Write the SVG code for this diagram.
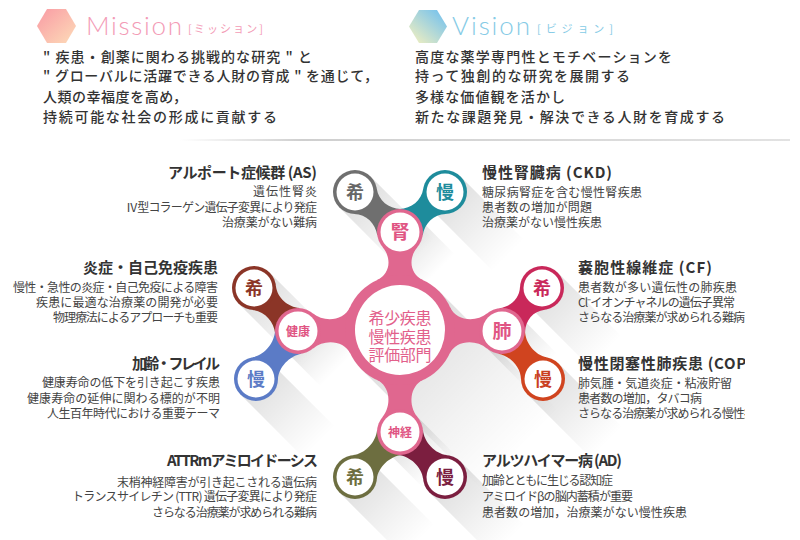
<svg xmlns="http://www.w3.org/2000/svg" width="800" height="540" viewBox="0 0 800 540">
<style>
.hd{font-family:"Noto Sans CJK JP","Noto Sans",sans-serif;font-size:14px;font-weight:500;fill:#333}
.ttl{font-family:"Noto Sans CJK JP","Liberation Sans",sans-serif;font-size:15px;font-weight:700;fill:#333}
.bd{font-family:"Noto Sans CJK JP","Liberation Sans",sans-serif;font-size:12px;fill:#444}
.end{text-anchor:end}
.ck{font-family:"Noto Sans CJK JP",sans-serif;font-size:18px;font-weight:700;text-anchor:middle}
.sk{font-family:"Noto Sans CJK JP",sans-serif;font-weight:700;text-anchor:middle;fill:#e05583}
.pk{fill:#e0678f}
.wh{fill:#fff}
.sh{fill:url(#shg)}
</style>
<defs>
<linearGradient id="shg" x1="0" y1="0" x2="1" y2="0">
<stop offset="0" stop-color="#000" stop-opacity="0.13"/>
<stop offset="0.6" stop-color="#000" stop-opacity="0.05"/>
<stop offset="1" stop-color="#000" stop-opacity="0"/>
</linearGradient>
<linearGradient id="hexM" x1="0" y1="0" x2="1" y2="1">
<stop offset="0" stop-color="#f99aa4"/>
<stop offset="1" stop-color="#fddcb8"/>
</linearGradient>
<linearGradient id="hexV" x1="1" y1="0" x2="0" y2="1">
<stop offset="0.1" stop-color="#79c3ec"/>
<stop offset="1" stop-color="#f8f2bd"/>
</linearGradient>
<linearGradient id="sep" x1="180" y1="0" x2="790" y2="0" gradientUnits="userSpaceOnUse">
<stop offset="0" stop-color="#ffffff"/>
<stop offset="0.2" stop-color="#cfcfcf"/>
<stop offset="1" stop-color="#e2e2e2"/>
</linearGradient>
<clipPath id="clipR"><rect x="0" y="0" width="745" height="540"/></clipPath>
</defs>

<g id="header">
<polygon points="37,26 47,9 66,9 76,26 66,43 47,43" fill="url(#hexM)"/>
<text x="86" y="35" font-family="Lato,'Liberation Sans',sans-serif" font-size="26" font-weight="300" fill="#f39bb6" textLength="96">Mission</text>
<text x="188" y="33" font-family="'Noto Sans CJK JP',sans-serif" font-size="11" fill="#f39bb6" textLength="75">[ミッション]</text>
<text class="hd"><tspan x="43" y="62" textLength="269">" 疾患・創薬に関わる挑戦的な研究 " と</tspan><tspan x="43" y="81" textLength="335">" グローバルに活躍できる人財の育成 " を通じて，</tspan><tspan x="43" y="102" textLength="144">人類の幸福度を高め，</tspan><tspan x="43" y="122" textLength="234">持続可能な社会の形成に貢献する</tspan></text>

<polygon points="409,26.5 419,10 437,10 447,26.5 437,43 419,43" fill="url(#hexV)"/>
<text x="452" y="35" font-family="Lato,'Liberation Sans',sans-serif" font-size="26" font-weight="300" fill="#86cbe6" textLength="78">Vision</text>
<text x="537" y="33" font-family="'Noto Sans CJK JP',sans-serif" font-size="11" fill="#86cbe6" textLength="76">[ビジョン]</text>
<text class="hd"><tspan x="415" y="62" textLength="257">高度な薬学専門性とモチベーションを</tspan><tspan x="415" y="81" textLength="215">持って独創的な研究を展開する</tspan><tspan x="415" y="102" textLength="150">多様な価値観を活かし</tspan><tspan x="415" y="122" textLength="310">新たな課題発見・解決できる人財を育成する</tspan></text>
<line x1="180" y1="140" x2="790" y2="140" stroke="url(#sep)" stroke-width="2"/>
</g>

<g id="shadows">
<rect class="sh" x="0" y="-55" width="170" height="110" transform="translate(400,330) rotate(45)"/>
<rect class="sh" x="0" y="-23" width="55" height="46" transform="translate(400,232) rotate(45)"/>
<rect class="sh" x="0" y="-23" width="55" height="46" transform="translate(298,331) rotate(45)"/>
<rect class="sh" x="0" y="-23" width="55" height="46" transform="translate(502,331) rotate(45)"/>
<rect class="sh" x="0" y="-23" width="55" height="46" transform="translate(400,432) rotate(45)"/>
<rect class="sh" x="0" y="-22" width="90" height="44" transform="translate(355,192) rotate(45)"/>
<rect class="sh" x="0" y="-22" width="90" height="44" transform="translate(445,192) rotate(45)"/>
<rect class="sh" x="0" y="-22" width="90" height="44" transform="translate(254,288) rotate(45)"/>
<rect class="sh" x="0" y="-22" width="90" height="44" transform="translate(256,379) rotate(45)"/>
<rect class="sh" x="0" y="-22" width="90" height="44" transform="translate(542,288) rotate(45)"/>
<rect class="sh" x="0" y="-22" width="90" height="44" transform="translate(543,379) rotate(45)"/>
<rect class="sh" x="0" y="-22" width="90" height="44" transform="translate(355,477) rotate(45)"/>
<rect class="sh" x="0" y="-22" width="90" height="44" transform="translate(445,477) rotate(45)"/>
</g>

<g id="connectors">
<path fill="#6f6f6f" transform="translate(355,192) rotate(41.6)" d="M14.1,-16.9 C23.3,-9.2 36.2,-9.9 45.4,-17.6 L45.4,17.6 C36.2,9.9 23.3,9.2 14.1,16.9Z"/>
<path fill="#1e8c9c" transform="translate(445,192) rotate(138.4)" d="M14.1,-16.9 C23.3,-9.2 36.2,-9.9 45.4,-17.6 L45.4,17.6 C36.2,9.9 23.3,9.2 14.1,16.9Z"/>
<path fill="#8b3527" transform="translate(254,288) rotate(44.3)" d="M14.1,-16.9 C23.3,-9.2 37.5,-9.9 46.7,-17.6 L46.7,17.6 C37.5,9.9 23.3,9.2 14.1,16.9Z"/>
<path fill="#5b7bc6" transform="translate(256,379) rotate(-48.8)" d="M14.1,-16.9 C23.3,-9.2 39.8,-9.9 49,-17.6 L49,17.6 C39.8,9.9 23.3,9.2 14.1,16.9Z"/>
<path fill="#c9285a" transform="translate(542,288) rotate(132.9)" d="M14.1,-16.9 C23.3,-9.2 34.7,-9.9 43.9,-17.6 L43.9,17.6 C34.7,9.9 23.3,9.2 14.1,16.9Z"/>
<path fill="#d0441f" transform="translate(543,379) rotate(-130.5)" d="M14.1,-16.9 C23.3,-9.2 39.1,-9.9 48.3,-17.6 L48.3,17.6 C39.1,9.9 23.3,9.2 14.1,16.9Z"/>
<path fill="#6d6e40" transform="translate(355,477) rotate(-45)" d="M14.1,-16.9 C23.3,-9.2 39.6,-9.9 48.8,-17.6 L48.8,17.6 C39.6,9.9 23.3,9.2 14.1,16.9Z"/>
<path fill="#7b1e3f" transform="translate(445,477) rotate(-135)" d="M14.1,-16.9 C23.3,-9.2 39.6,-9.9 48.8,-17.6 L48.8,17.6 C39.6,9.9 23.3,9.2 14.1,16.9Z"/>
<path class="pk" transform="translate(400,232) rotate(90)" d="M14.8,-17.6 C26.3,-8 41.9,-9.6 48.2,-23.2 L48.2,23.2 C41.9,9.6 26.3,8 14.8,17.6Z"/>
<path class="pk" transform="translate(298,331) rotate(-0.6)" d="M14.8,-17.6 C26.3,-8 45.9,-9.6 52.2,-23.2 L52.2,23.2 C45.9,9.6 26.3,8 14.8,17.6Z"/>
<path class="pk" transform="translate(502,331) rotate(180.6)" d="M14.8,-17.6 C26.3,-8 45.9,-9.6 52.2,-23.2 L52.2,23.2 C45.9,9.6 26.3,8 14.8,17.6Z"/>
<path class="pk" transform="translate(400,432) rotate(-90)" d="M14.8,-17.6 C26.3,-8 45.9,-9.6 52.2,-23.2 L52.2,23.2 C45.9,9.6 26.3,8 14.8,17.6Z"/>
</g>

<g id="node-as">
<circle cx="355" cy="192" r="22" fill="#6f6f6f"/><circle cx="355" cy="192" r="18.5" class="wh"/>
<text class="ck" x="355" y="198.5" fill="#666">希</text>
<text class="ttl end" x="317" y="177.5" textLength="149">アルポート症候群 (AS)</text>
<text class="bd end"><tspan x="317" y="196" textLength="64">遺伝性腎炎</tspan><tspan x="317" y="211.5" textLength="191">Ⅳ型コラーゲン遺伝子変異により発症</tspan><tspan x="317" y="226.5" textLength="95">治療薬がない難病</tspan></text>
</g>

<g id="node-ckd">
<circle cx="445" cy="192" r="22" fill="#1e8c9c"/><circle cx="445" cy="192" r="18.5" class="wh"/>
<text class="ck" x="445" y="198.5" fill="#1e8c9c">慢</text>
<text class="ttl" x="482" y="177.5" textLength="130">慢性腎臓病 (CKD)</text>
<text class="bd"><tspan x="482" y="196.5" textLength="160">糖尿病腎症を含む慢性腎疾患</tspan><tspan x="482" y="211.5" textLength="110">患者数の増加が問題</tspan><tspan x="482" y="226.5" textLength="120">治療薬がない慢性疾患</tspan></text>
</g>

<g id="node-inflam">
<circle cx="254" cy="288" r="22" fill="#8b3527"/><circle cx="254" cy="288" r="18.5" class="wh"/>
<text class="ck" x="254" y="294.5" fill="#8b3527">希</text>
<text class="ttl end" x="218" y="272.5" textLength="135">炎症・自己免疫疾患</text>
<text class="bd end"><tspan x="218" y="291.5" textLength="205">慢性・急性の炎症・自己免疫による障害</tspan><tspan x="218" y="306.5" textLength="182">疾患に最適な治療薬の開発が必要</tspan><tspan x="218" y="321.5" textLength="165">物理療法によるアプローチも重要</tspan></text>
</g>

<g id="node-frail">
<circle cx="256" cy="379" r="22" fill="#5b7bc6"/><circle cx="256" cy="379" r="18.5" class="wh"/>
<text class="ck" x="256" y="385.5" fill="#5b7bc6">慢</text>
<text class="ttl end" x="220" y="368.5" textLength="88">加齢・フレイル</text>
<text class="bd end"><tspan x="220" y="386.5" textLength="178">健康寿命の低下を引き起こす疾患</tspan><tspan x="220" y="402.5" textLength="193">健康寿命の延伸に関わる標的が不明</tspan><tspan x="220" y="417.5" textLength="173">人生百年時代における重要テーマ</tspan></text>
</g>

<g id="node-cf">
<circle cx="542" cy="288" r="22" fill="#c9285a"/><circle cx="542" cy="288" r="18.5" class="wh"/>
<text class="ck" x="542" y="294.5" fill="#c9285a">希</text>
<g clip-path="url(#clipR)">
<text class="ttl" x="578" y="272.5" textLength="134">嚢胞性線維症 (CF)</text>
<text class="bd"><tspan x="578" y="291.5" textLength="159">患者数が多い遺伝性の肺疾患</tspan><tspan x="578" y="306.5" textLength="157">Cl⁻イオンチャネルの遺伝子異常</tspan><tspan x="578" y="321.5" textLength="167">さらなる治療薬が求められる難病</tspan></text>
</g>
</g>

<g id="node-copd">
<circle cx="543" cy="379" r="22" fill="#d0441f"/><circle cx="543" cy="379" r="18.5" class="wh"/>
<text class="ck" x="543" y="385.5" fill="#c9401f">慢</text>
<g clip-path="url(#clipR)">
<text class="ttl" x="578" y="368.5" textLength="186">慢性閉塞性肺疾患 (COPD)</text>
<text class="bd"><tspan x="578" y="387.5" textLength="154">肺気腫・気道炎症・粘液貯留</tspan><tspan x="578" y="402.5" textLength="124">患者数の増加，タバコ病</tspan><tspan x="578" y="417.5" textLength="189">さらなる治療薬が求められる慢性疾患</tspan></text>
</g>
</g>

<g id="node-attr">
<circle cx="355" cy="477" r="22" fill="#6d6e40"/><circle cx="355" cy="477" r="18.5" class="wh"/>
<text class="ck" x="355" y="483.5" fill="#6d6e40">希</text>
<text class="ttl end" x="318" y="465.5" textLength="151">ATTRmアミロイドーシス</text>
<text class="bd end"><tspan x="317" y="486.5" textLength="200">末梢神経障害が引き起こされる遺伝病</tspan><tspan x="317" y="501" textLength="245">トランスサイレチン (TTR) 遺伝子変異により発症</tspan><tspan x="317" y="516.5" textLength="165">さらなる治療薬が求められる難病</tspan></text>
</g>

<g id="node-ad">
<circle cx="445" cy="477" r="22" fill="#7b1e3f"/><circle cx="445" cy="477" r="18.5" class="wh"/>
<text class="ck" x="445" y="483.5" fill="#7b1e3f">慢</text>
<text class="ttl" x="482" y="465.5" textLength="140">アルツハイマー病 (AD)</text>
<text class="bd"><tspan x="482" y="484.5" textLength="131">加齢とともに生じる認知症</tspan><tspan x="482" y="500.5" textLength="151">アミロイドβの脳内蓄積が重要</tspan><tspan x="482" y="516.5" textLength="205">患者数の増加，治療薬がない慢性疾患</tspan></text>
</g>

<g id="node-main">
<circle cx="400" cy="330" r="55" class="pk"/>
<circle cx="400" cy="330" r="45" class="wh"/>
<text font-family="'Noto Sans CJK JP',sans-serif" font-size="16" fill="#e2608b" text-anchor="middle"><tspan x="400" y="324" textLength="63">希少疾患</tspan><tspan x="400" y="343" textLength="63">慢性疾患</tspan><tspan x="400" y="361" textLength="63">評価部門</tspan></text>
</g>

<g id="node-kidney">
<circle cx="400" cy="232" r="23" class="pk"/><circle cx="400" cy="232" r="19.5" class="wh"/>
<text class="sk" x="400" y="239" font-size="19">腎</text>
</g>
<g id="node-health">
<circle cx="298" cy="331" r="23" class="pk"/><circle cx="298" cy="331" r="19.5" class="wh"/>
<text class="sk" x="298" y="335.5" font-size="12">健康</text>
</g>
<g id="node-lung">
<circle cx="502" cy="331" r="23" class="pk"/><circle cx="502" cy="331" r="19.5" class="wh"/>
<text class="sk" x="502" y="338" font-size="19">肺</text>
</g>
<g id="node-nerve">
<circle cx="400" cy="432" r="23" class="pk"/><circle cx="400" cy="432" r="19.5" class="wh"/>
<text class="sk" x="400" y="436.5" font-size="12">神経</text>
</g>
</svg>
